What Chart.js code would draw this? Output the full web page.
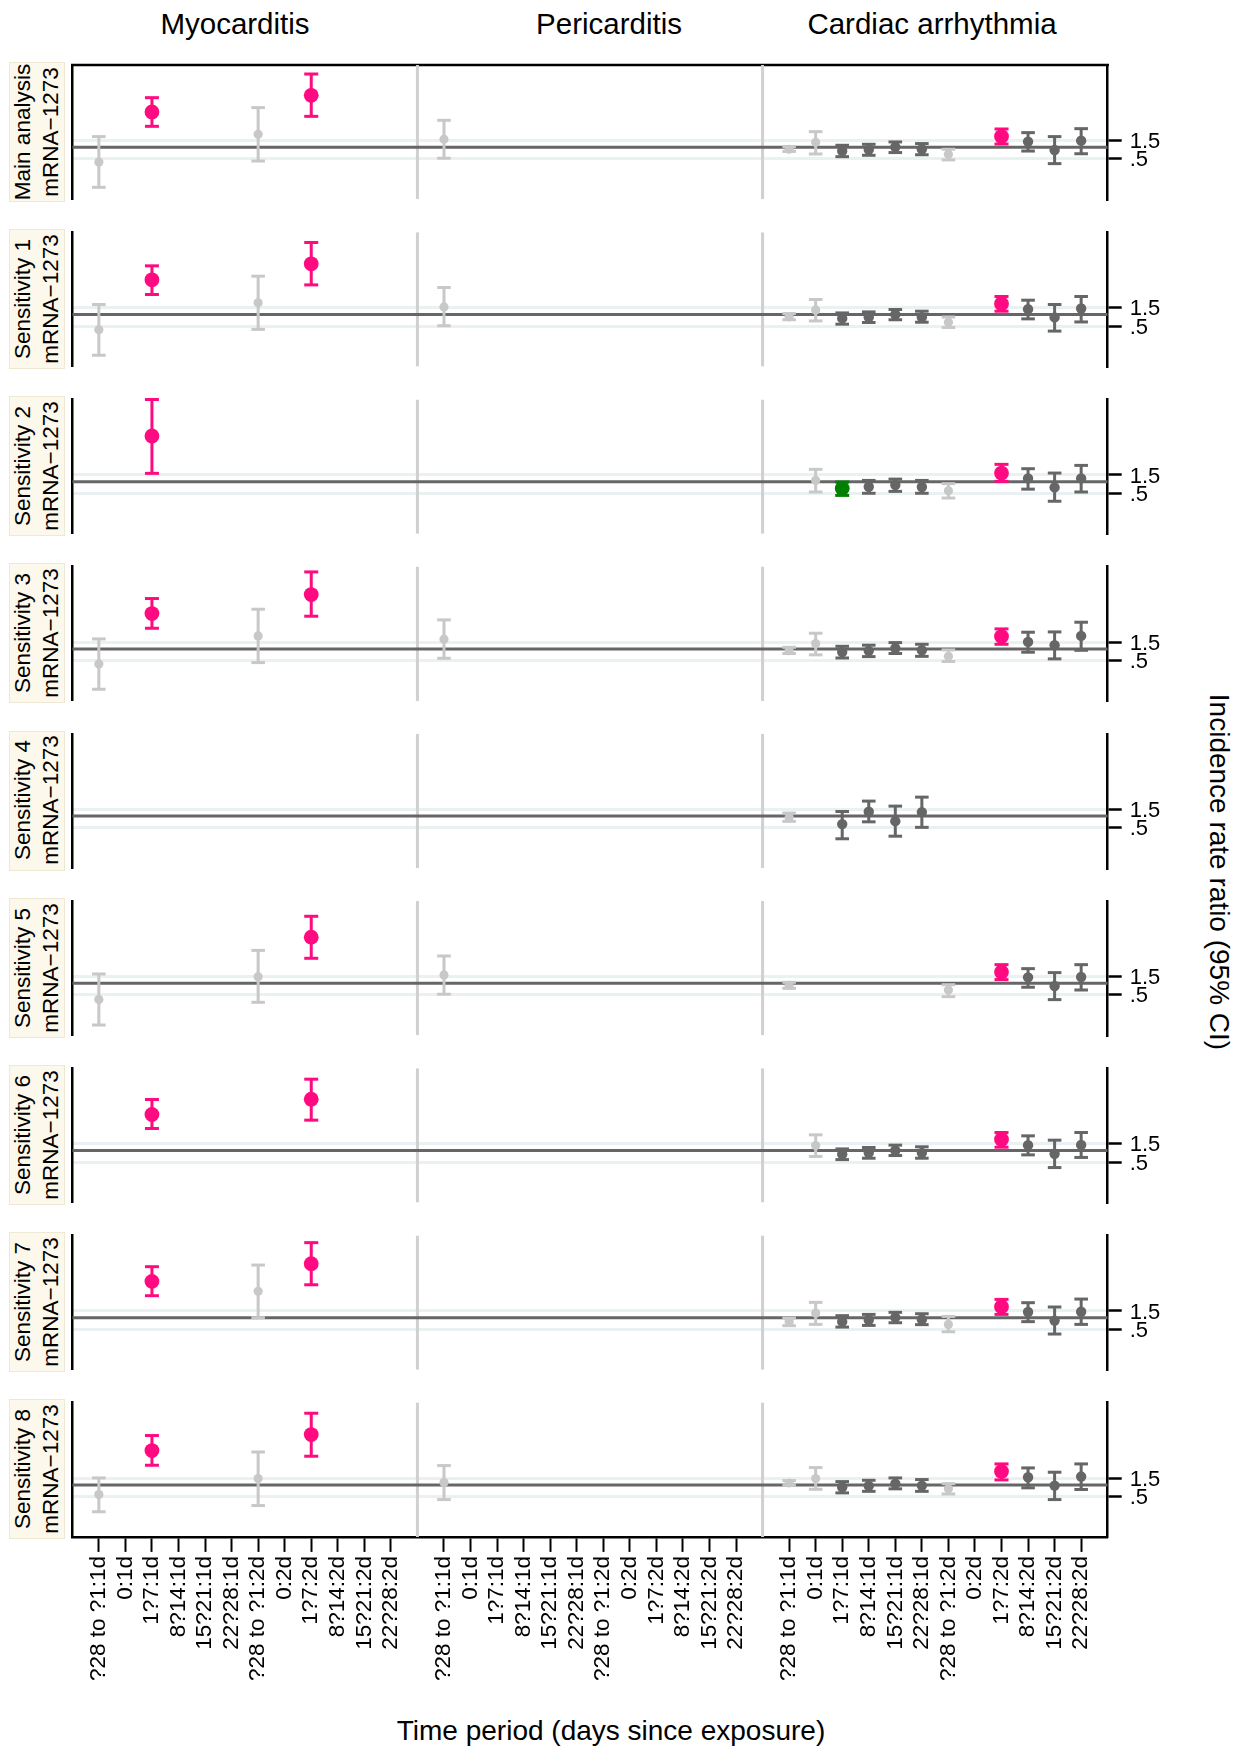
<!DOCTYPE html>
<html>
<head>
<meta charset="utf-8">
<script src="https://cdn.jsdelivr.net/npm/chart.js@4.4.1/dist/chart.umd.min.js"></script>
<style>
html,body{margin:0;padding:0;background:#fff;}
#wrap{position:relative;width:1240px;height:1749px;overflow:hidden;background:#fff;
  font-family:"Liberation Sans",Arial,Helvetica,sans-serif;color:#000;}
#wrap canvas{position:absolute;left:0;}
.title{position:absolute;font-size:29.5px;line-height:34px;white-space:nowrap;transform:translate(-50%,-50%);}
.atitle{position:absolute;font-size:28px;line-height:34px;white-space:nowrap;transform:translate(-50%,-50%);}
.strip{position:absolute;background:#FCF8EB;border:1px solid #EFE8D4;box-sizing:border-box;}
.stext{position:absolute;font-size:22.5px;line-height:28px;white-space:pre;text-align:center;transform:translate(-50%,-50%) rotate(-90deg);}
</style>
</head>
<body>
<div id="wrap"></div>
<script>
const _ = null;
// ---------- categories ----------
const periods = ["?28 to ?1:1d","0:1d","1?7:1d","8?14:1d","15?21:1d","22?28:1d",
                 "?28 to ?1:2d","0:2d","1?7:2d","8?14:2d","15?21:2d","22?28:2d"];
const outcomes = ["Myocarditis","Pericarditis","Cardiac arrhythmia"];
const panels = ["Main analysis","Sensitivity 1","Sensitivity 2","Sensitivity 3","Sensitivity 4",
                "Sensitivity 5","Sensitivity 6","Sensitivity 7","Sensitivity 8"];
const vaccine = "mRNA\u22121273";
const yTicks = [0.5, 1.5];
const yTickLabels = [".5", "1.5"];
const xTitle = "Time period (days since exposure)";
const yTitle = "Incidence rate ratio (95% CI)";

// ---------- Myocarditis: IRR, lower, upper, class (L light grey, D dark grey, P raised, G lowered) ----------
const myoEst = [
 [0.415,_,8.32,_,_,_,2.18,_,22.6,_,_,_],
 [0.40,_,8.0,_,_,_,2.01,_,20.9,_,_,_],
 [_,_,15.5,_,_,_,_,_,_,_,_,_],
 [0.407,_,8.32,_,_,_,2.18,_,26.0,_,_,_],
 [_,_,_,_,_,_,_,_,_,_,_,_],
 [0.38,_,_,_,_,_,1.49,_,15.8,_,_,_],
 [_,_,8.66,_,_,_,_,_,21.7,_,_,_],
 [_,_,8.84,_,_,_,4.85,_,25.5,_,_,_],
 [0.56,_,7.83,_,_,_,1.46,_,20.5,_,_,_]
];
const myoLo = [
 [0.091,_,3.52,_,_,_,0.44,_,6.4,_,_,_],
 [0.087,_,3.32,_,_,_,0.41,_,5.9,_,_,_],
 [_,_,1.65,_,_,_,_,_,_,_,_,_],
 [0.089,_,3.45,_,_,_,0.44,_,7.1,_,_,_],
 [_,_,_,_,_,_,_,_,_,_,_,_],
 [0.082,_,_,_,_,_,0.32,_,4.48,_,_,_],
 [_,_,3.74,_,_,_,_,_,6.17,_,_,_],
 [_,_,3.74,_,_,_,1.0,_,7.2,_,_,_],
 [0.20,_,3.25,_,_,_,0.29,_,5.58,_,_,_]
];
const myoHi = [
 [1.90,_,19.6,_,_,_,10.8,_,81,_,_,_],
 [1.82,_,18.5,_,_,_,9.96,_,75,_,_,_],
 [_,_,138,_,_,_,_,_,_,_,_,_],
 [1.82,_,20.5,_,_,_,10.8,_,101,_,_,_],
 [_,_,_,_,_,_,_,_,_,_,_,_],
 [1.75,_,_,_,_,_,7.2,_,55.6,_,_,_],
 [_,_,21.3,_,_,_,_,_,72,_,_,_],
 [_,_,21.3,_,_,_,23.5,_,90,_,_,_],
 [1.52,_,19.3,_,_,_,7.2,_,73.5,_,_,_]
];
const myoCls = ["L.P...L.P...","L.P...L.P...","..P.........","L.P...L.P...","............",
                "L.....L.P...","..P.....P...","..P...L.P...","L.P...L.P..."];

// ---------- Pericarditis ----------
const periEst = [
 [1.62,_,_,_,_,_,_,_,_,_,_,_],[1.58,_,_,_,_,_,_,_,_,_,_,_],[_,_,_,_,_,_,_,_,_,_,_,_],
 [1.79,_,_,_,_,_,_,_,_,_,_,_],[_,_,_,_,_,_,_,_,_,_,_,_],[1.65,_,_,_,_,_,_,_,_,_,_,_],
 [_,_,_,_,_,_,_,_,_,_,_,_],[_,_,_,_,_,_,_,_,_,_,_,_],[1.15,_,_,_,_,_,_,_,_,_,_,_]
];
const periLo = [
 [0.52,_,_,_,_,_,_,_,_,_,_,_],[0.51,_,_,_,_,_,_,_,_,_,_,_],[_,_,_,_,_,_,_,_,_,_,_,_],
 [0.57,_,_,_,_,_,_,_,_,_,_,_],[_,_,_,_,_,_,_,_,_,_,_,_],[0.52,_,_,_,_,_,_,_,_,_,_,_],
 [_,_,_,_,_,_,_,_,_,_,_,_],[_,_,_,_,_,_,_,_,_,_,_,_],[0.415,_,_,_,_,_,_,_,_,_,_,_]
];
const periHi = [
 [5.05,_,_,_,_,_,_,_,_,_,_,_],[5.05,_,_,_,_,_,_,_,_,_,_,_],[_,_,_,_,_,_,_,_,_,_,_,_],
 [5.7,_,_,_,_,_,_,_,_,_,_,_],[_,_,_,_,_,_,_,_,_,_,_,_],[5.15,_,_,_,_,_,_,_,_,_,_,_],
 [_,_,_,_,_,_,_,_,_,_,_,_],[_,_,_,_,_,_,_,_,_,_,_,_],[3.19,_,_,_,_,_,_,_,_,_,_,_]
];
const periCls = ["L...........","L...........","............","L...........","............",
                 "L...........","............","............","L..........."];

// ---------- Cardiac arrhythmia ----------
const arrEst = [
 [0.89,1.35,0.80,0.87,1.02,0.89,0.66,_,1.90,1.41,0.85,1.49],
 [0.87,1.32,0.79,0.85,1.00,0.85,0.63,_,1.90,1.38,0.84,1.43],
 [_,1.08,0.67,0.74,0.82,0.73,0.58,_,1.68,1.22,0.71,1.22],
 [0.90,1.38,0.83,0.89,1.04,0.92,0.64,_,2.10,1.52,1.25,2.18],
 [0.92,_,0.62,1.30,0.74,1.27,_,_,_,_,_,_],
 [0.89,_,_,_,_,_,0.67,_,1.97,1.43,0.85,1.46],
 [_,1.35,0.80,0.87,1.00,0.87,_,_,1.93,1.38,0.82,1.40],
 [0.79,1.32,0.79,0.87,1.02,0.90,0.67,_,1.93,1.41,0.84,1.43],
 [1.12,1.46,0.87,0.94,1.08,0.96,0.80,_,2.22,1.58,0.96,1.65]
];
const arrLo = [
 [0.78,0.67,0.57,0.62,0.73,0.64,0.47,_,1.22,0.80,0.376,0.68],
 [0.73,0.68,0.56,0.62,0.73,0.63,0.46,_,1.22,0.77,0.37,0.64],
 [_,0.54,0.44,0.50,0.56,0.50,0.376,_,1.02,0.64,0.31,0.54],
 [0.76,0.70,0.58,0.63,0.76,0.64,0.47,_,1.32,0.82,0.55,0.92],
 [0.73,_,0.257,0.71,0.30,0.51,_,_,_,_,_,_],
 [0.74,_,_,_,_,_,0.45,_,1.25,0.79,0.376,0.67],
 [_,0.70,0.58,0.63,0.74,0.63,_,_,1.22,0.77,0.36,0.66],
 [0.62,0.67,0.57,0.63,0.74,0.66,0.43,_,1.22,0.79,0.376,0.67],
 [0.98,0.77,0.62,0.68,0.79,0.68,0.58,_,1.35,0.84,0.415,0.76]
];
const arrHi = [
 [1.05,2.56,1.13,1.20,1.38,1.25,0.89,_,3.00,2.41,1.90,3.06],
 [1.06,2.46,1.10,1.17,1.35,1.22,0.86,_,2.94,2.36,1.82,2.94],
 [_,2.10,0.98,1.08,1.17,1.08,0.89,_,2.83,2.18,1.68,2.66],
 [1.10,2.56,1.17,1.25,1.46,1.32,0.94,_,3.32,2.72,2.77,4.95],
 [1.20,_,1.32,2.46,1.82,3.12,_,_,_,_,_,_],
 [1.06,_,_,_,_,_,0.92,_,3.06,2.41,1.90,3.06],
 [_,2.56,1.10,1.20,1.38,1.25,_,_,2.94,2.41,1.86,2.94],
 [0.98,2.51,1.13,1.22,1.38,1.27,1.08,_,3.00,2.46,1.90,3.06],
 [1.30,2.83,1.22,1.32,1.52,1.38,1.08,_,3.52,2.77,2.14,3.52]
];
const arrCls = ["LLDDDDL.PDDD","LLDDDDL.PDDD",".LGDDDL.PDDD","LLDDDDL.PDDD","L.DDDD......",
                "L.....L.PDDD",".LDDDD..PDDD","LLDDDDL.PDDD","LLDDDDL.PDDD"];

// ---------- layout / style ----------
const estSets = [myoEst, periEst, arrEst];
const loSets  = [myoLo, periLo, arrLo];
const hiSets  = [myoHi, periHi, arrHi];
const clsSets = [myoCls, periCls, arrCls];

const W = 1240;
const PLOT_L = 72.3, PLOT_R = 1107.7, YAXIS_W = 60;
const TOP0 = 65, STEP = 167.2, PH = 134.3, MARGIN = 32;
const YMIN = 0.0443, YMAX = 139;
const GROUP = periods.length + 1;           // one empty slot between outcomes
const XMAX = outcomes.length * GROUP;
const xPos = [];
outcomes.forEach((o, g) => periods.forEach((p, i) => xPos.push(g * GROUP + i + 1)));
const xLabels = outcomes.flatMap(() => periods);
const sepPos = outcomes.slice(1).map((o, g) => (g + 1) * GROUP);

const STY = {
  L: {color:'#C8C8C8', r:4.6, cap:6.8},
  D: {color:'#666666', r:5.2, cap:6.8},
  P: {color:'#FF0A80', r:7.4, cap:7.0},
  G: {color:'#008000', r:7.4, cap:7.0}
};
const FONT = '"Liberation Sans", Arial, Helvetica, sans-serif';
Chart.defaults.font.family = FONT;

const wrap = document.getElementById('wrap');
function div(cls, text, css) {
  const d = document.createElement('div');
  d.className = cls; d.textContent = text;
  Object.assign(d.style, css);
  wrap.appendChild(d);
  return d;
}

// titles
const titleX = [235, 609, 932];
outcomes.forEach((o, g) => div('title', o, {left: titleX[g] + 'px', top: '24px'}));
div('atitle', xTitle, {left: '611px', top: '1731px'});
div('atitle', yTitle, {left: '1219px', top: '872px', transform: 'translate(-50%,-50%) rotate(90deg)'});

function buildDatasets(k) {
  const order = ['L', 'D', 'P', 'G'];
  const W_ = {}, C_ = {}, P_ = {};
  order.forEach(c => { W_[c] = []; C_[c] = []; P_[c] = []; });
  outcomes.forEach((o, g) => {
    const est = estSets[g][k], lo = loSets[g][k], hi = hiSets[g][k], cls = clsSets[g][k];
    periods.forEach((p, i) => {
      if (est[i] == null) return;
      const c = cls[i];
      const x = g * GROUP + i + 1;
      W_[c].push({x, y: lo[i]}, {x, y: hi[i]}, {x, y: null});
      C_[c].push({x, y: lo[i]}, {x, y: hi[i]});
      P_[c].push({x, y: est[i]});
    });
  });
  const ds = [];
  // top frame line (first panel only)
  if (k === 0) {
    ds.push({type:'line', data:[{x:0, y:YMAX}, {x:XMAX, y:YMAX}], borderColor:'#000', borderWidth:2.5,
             pointRadius:0, order:30, clip:false, borderCapStyle:'square'});
  }
  // separators between outcomes
  const sep = [];
  sepPos.forEach(x => sep.push({x, y: YMIN}, {x, y: YMAX}, {x, y: null}));
  ds.push({type:'line', data: sep, borderColor:'#D0D0D0', borderWidth:3, pointRadius:0,
           spanGaps:false, order:20, borderCapStyle:'butt'});
  // reference line at IRR = 1
  ds.push({type:'line', data:[{x:0, y:1}, {x:XMAX, y:1}], borderColor:'#666666', borderWidth:3,
           pointRadius:0, order:15, borderCapStyle:'butt'});
  order.forEach((c, j) => {
    const s = STY[c];
    if (!P_[c].length) return;
    ds.push({type:'line', data: W_[c], borderColor: s.color, borderWidth: 3, pointRadius: 0,
             spanGaps:false, order: 10 - j, clip:false, borderCapStyle:'butt'});
    ds.push({type:'scatter', data: C_[c], pointStyle:'line', pointRadius: s.cap,
             pointBorderWidth: 3, pointBorderColor: s.color, borderColor: s.color,
             backgroundColor: s.color, order: 6 - j, clip:false});
    ds.push({type:'scatter', data: P_[c], pointStyle:'circle', pointRadius: s.r,
             pointBorderWidth: 0, pointBackgroundColor: s.color, backgroundColor: s.color,
             order: 2 - j * 0.1, clip:false});
  });
  return ds;
}

panels.forEach((name, k) => {
  const pTop = TOP0 + STEP * k;
  const last = k === panels.length - 1;
  const cTop = Math.floor(pTop) - MARGIN;
  const padTop = pTop - cTop;
  const xAxisH = last ? 178 : 0;
  const padBottom = last ? 4 : MARGIN;
  const cH = Math.ceil(padTop + PH + xAxisH + padBottom);
  const padB = cH - padTop - PH - xAxisH;

  // strip label
  div('strip', '', {left:'8.5px', width:'56px', top:(pTop - 3.3) + 'px', height:'140px'});
  div('stext', name + '\n' + vaccine, {left:'36.5px', top:(pTop + PH / 2 - 0.5) + 'px'});

  const cv = document.createElement('canvas');
  cv.width = W; cv.height = cH;
  cv.style.top = cTop + 'px';
  cv.style.width = W + 'px'; cv.style.height = cH + 'px';
  wrap.appendChild(cv);

  const scales = {
    x: {
      type:'linear', min:0, max:XMAX, position:'bottom', display:last,
      afterBuildTicks: a => { a.ticks = xPos.map(v => ({value: v})); },
      afterFit: s => { s.height = xAxisH; },
      ticks: {autoSkip:false, minRotation:90, maxRotation:90, padding:4, color:'#000',
              font:{size:22.5, family:FONT}, callback: (v, i) => xLabels[i]},
      grid: {drawOnChartArea:false, drawTicks:true, tickLength:15, tickColor:'#000', tickWidth:2},
      border: {display:true, color:'#000', width:2.5}
    },
    y: {
      type:'logarithmic', position:'right', min:YMIN, max:YMAX,
      afterBuildTicks: a => { a.ticks = yTicks.map(v => ({value: v})); },
      afterFit: s => { s.width = YAXIS_W; },
      ticks: {color:'#000', padding:8, labelOffset:1.5, font:{size:22, family:FONT},
              callback: (v, i) => yTickLabels[i]},
      grid: {color:'#EAF1F2', lineWidth:3, drawTicks:true, tickLength:14, tickColor:'#000', tickWidth:2.5},
      border: {display:true, color:'#000', width:2.5}
    },
    yl: {
      type:'linear', position:'left', display:true,
      afterFit: s => { s.width = 0; },
      ticks: {display:false},
      grid: {display:true, drawOnChartArea:false, drawTicks:false},
      border: {display:true, color:'#000', width:2.5}
    }
  };

  new Chart(cv, {
    type: 'scatter',
    data: {datasets: buildDatasets(k)},
    options: {
      responsive:false, animation:false, events:[],
      layout: {padding: {left: PLOT_L, right: W - PLOT_R - YAXIS_W, top: padTop, bottom: padB}},
      plugins: {legend:{display:false}, tooltip:{enabled:false}},
      scales
    }
  });
});
</script>
</body>
</html>
